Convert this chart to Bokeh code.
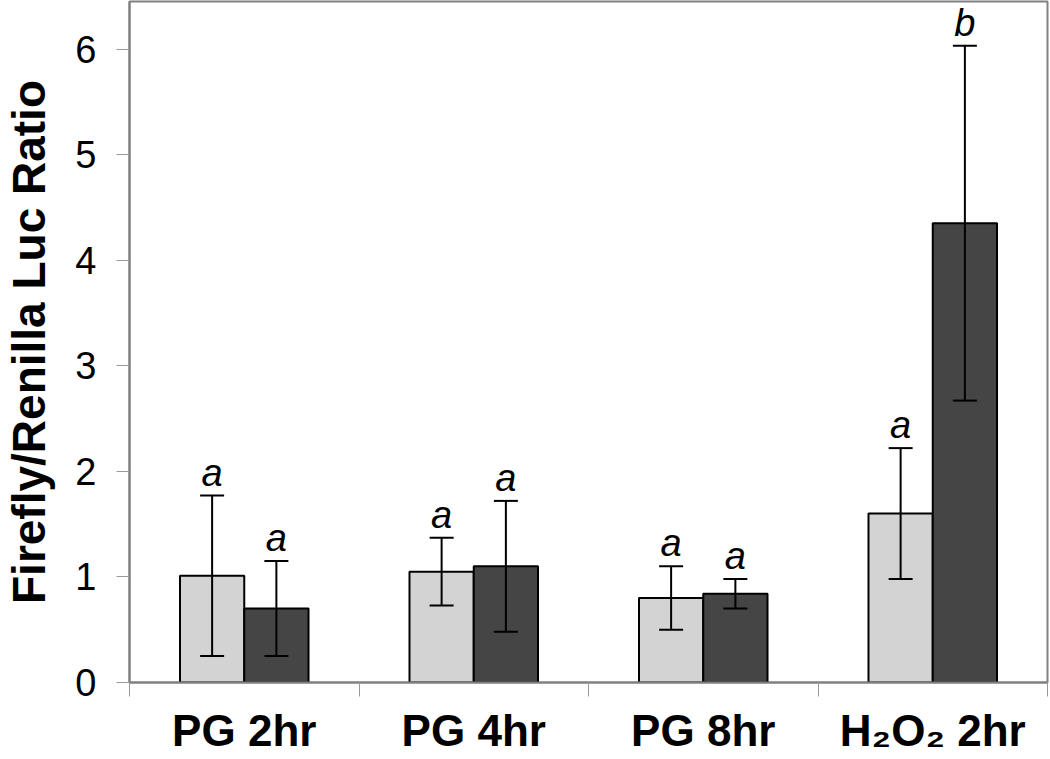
from bokeh.plotting import figure
from bokeh.models import FixedTicker, Range1d, ColumnDataSource, Whisker, TeeHead
from bokeh.core.properties import value
from bokeh.embed import file_html
from bokeh.resources import INLINE

# ---- data ----
categories = ["PG 2hr", "PG 4hr", "PG 8hr", "H\u2082O\u2082 2hr"]
control_means = [1.01, 1.05, 0.80, 1.60]
control_errs = [0.76, 0.32, 0.30, 0.62]
treated_means = [0.70, 1.10, 0.84, 4.35]
treated_errs = [0.45, 0.62, 0.14, 1.68]
control_letters = ["a", "a", "a", "a"]
treated_letters = ["a", "a", "a", "b"]
y_ticks = [0, 1, 2, 3, 4, 5, 6]

FONT = "Liberation Sans"
BAR_W = 0.28

p = figure(width=1050, height=759,
           x_range=Range1d(0, len(categories)), y_range=Range1d(0, 6.45),
           output_backend="svg", toolbar_location=None,
           min_border_left=128, min_border_top=1, min_border_right=3,
           min_border_bottom=77)

p.xgrid.visible = False
p.ygrid.visible = False
p.outline_line_color = "#808080"
p.outline_line_width = 2
p.background_fill_color = "white"
p.border_fill_color = "white"

centers = [i + 0.5 for i in range(len(categories))]
ctrl_x = [c - BAR_W / 2 for c in centers]
trt_x = [c + BAR_W / 2 for c in centers]

p.vbar(x=ctrl_x, top=control_means, width=BAR_W, bottom=0,
       fill_color="#d3d3d3", line_color="black", line_width=2)
p.vbar(x=trt_x, top=treated_means, width=BAR_W, bottom=0,
       fill_color="#454545", line_color="black", line_width=2)

for xs, means, errs, letters in [(ctrl_x, control_means, control_errs, control_letters),
                                 (trt_x, treated_means, treated_errs, treated_letters)]:
    up = [m + e for m, e in zip(means, errs)]
    lo = [m - e for m, e in zip(means, errs)]
    src = ColumnDataSource(dict(x=xs, upper=up, lower=lo, letters=letters))
    w = Whisker(base="x", upper="upper", lower="lower", source=src,
                level="annotation",
                line_color="black", line_width=2,
                upper_head=TeeHead(size=24, line_width=2, line_color="black"),
                lower_head=TeeHead(size=24, line_width=2, line_color="black"))
    p.add_layout(w)
    p.text(x="x", y="upper", text="letters", source=src,
           text_font=value(FONT), text_font_style="italic", text_font_size="38px",
           text_align="center", text_baseline="bottom", y_offset=-2,
           text_color="black")

# x axis: labels at category centres, ticks at category boundaries
xa = p.xaxis[0]
xa.ticker = FixedTicker(ticks=centers, minor_ticks=list(range(len(categories) + 1)))
xa.major_label_overrides = {c: lab for c, lab in zip(centers, categories)}
xa.major_tick_line_color = None
xa.major_tick_out = 0
xa.major_tick_in = 0
xa.minor_tick_out = 14
xa.minor_tick_in = 0
xa.minor_tick_line_color = "#999999"
xa.minor_tick_line_width = 1
xa.axis_line_color = "#808080"
xa.axis_line_width = 2
xa.major_label_text_font = FONT
xa.major_label_text_font_style = "bold"
xa.major_label_text_font_size = "44px"
xa.major_label_text_color = "black"
xa.major_label_standoff = 9

ya = p.yaxis[0]
ya.ticker = FixedTicker(ticks=y_ticks, minor_ticks=[])
ya.major_tick_out = 13
ya.major_tick_in = 0
ya.major_tick_line_color = "#999999"
ya.major_tick_line_width = 1
ya.axis_line_color = "#808080"
ya.axis_line_width = 2
ya.major_label_text_font = FONT
ya.major_label_text_font_size = "38px"
ya.major_label_text_color = "black"
ya.major_label_standoff = 20
ya.axis_label = "Firefly/Renilla Luc Ratio"
ya.axis_label_text_font = FONT
ya.axis_label_text_font_style = "bold"
ya.axis_label_text_font_size = "46px"
ya.axis_label_text_color = "black"
ya.axis_label_standoff = 17

open("out.html", "w").write(file_html(p, INLINE))
